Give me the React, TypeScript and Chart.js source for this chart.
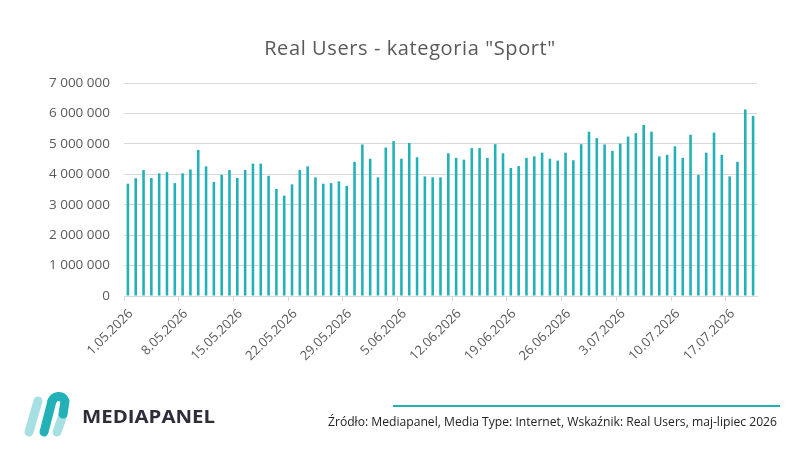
import React, { useEffect, useRef } from "react";
import { Chart, registerables } from "chart.js";

Chart.register(...registerables);

const TITLE = 'Real Users - kategoria "Sport"';
const SOURCE = "Źródło: Mediapanel, Media Type: Internet, Wskaźnik: Real Users, maj-lipiec 2026";
const BRAND = "MEDIAPANEL";

const categories: string[] = [
  "1.05.2026", "2.05.2026", "3.05.2026", "4.05.2026", "5.05.2026", "6.05.2026", "7.05.2026",
  "8.05.2026", "9.05.2026", "10.05.2026", "11.05.2026", "12.05.2026", "13.05.2026", "14.05.2026",
  "15.05.2026", "16.05.2026", "17.05.2026", "18.05.2026", "19.05.2026", "20.05.2026", "21.05.2026",
  "22.05.2026", "23.05.2026", "24.05.2026", "25.05.2026", "26.05.2026", "27.05.2026", "28.05.2026",
  "29.05.2026", "30.05.2026", "31.05.2026", "1.06.2026", "2.06.2026", "3.06.2026", "4.06.2026",
  "5.06.2026", "6.06.2026", "7.06.2026", "8.06.2026", "9.06.2026", "10.06.2026", "11.06.2026",
  "12.06.2026", "13.06.2026", "14.06.2026", "15.06.2026", "16.06.2026", "17.06.2026", "18.06.2026",
  "19.06.2026", "20.06.2026", "21.06.2026", "22.06.2026", "23.06.2026", "24.06.2026", "25.06.2026",
  "26.06.2026", "27.06.2026", "28.06.2026", "29.06.2026", "30.06.2026", "1.07.2026", "2.07.2026",
  "3.07.2026", "4.07.2026", "5.07.2026", "6.07.2026", "7.07.2026", "8.07.2026", "9.07.2026",
  "10.07.2026", "11.07.2026", "12.07.2026", "13.07.2026", "14.07.2026", "15.07.2026", "16.07.2026",
  "17.07.2026", "18.07.2026", "19.07.2026", "20.07.2026",
];

const realUsers: number[] = [
  3690000, 3870000, 4140000, 3880000, 4030000, 4070000, 3710000,
  4030000, 4160000, 4800000, 4260000, 3750000, 3980000, 4140000,
  3880000, 4140000, 4350000, 4350000, 3950000, 3520000, 3300000,
  3670000, 4140000, 4260000, 3900000, 3690000, 3710000, 3770000,
  3620000, 4410000, 4980000, 4510000, 3900000, 4880000, 5090000,
  4510000, 5030000, 4560000, 3930000, 3900000, 3900000, 4690000,
  4540000, 4480000, 4860000, 4860000, 4540000, 4990000, 4690000,
  4210000, 4270000, 4540000, 4590000, 4710000, 4510000, 4450000,
  4710000, 4460000, 4990000, 5400000, 5190000, 4980000, 4770000,
  5010000, 5240000, 5350000, 5620000, 5400000, 4590000, 4640000,
  4920000, 4540000, 5300000, 3980000, 4710000, 5370000, 4640000,
  3930000, 4410000, 6130000, 5920000,
];

const Y_MIN = 0;
const Y_MAX = 7000000;
const Y_STEP = 1000000;
const LABEL_EVERY = 7;

const TEAL = "#21b1b6";
const LIGHT_TEAL = "#a7e0e3";
const TEXT = "#595959";
const GRID = "#d9d9d9";
const FONT = "'Open Sans', sans-serif";

function fmt(v: number): string {
  return String(Math.round(v)).replace(/\B(?=(\d{3})+(?!\d))/g, " ");
}

export default function App() {
  const ref = useRef<HTMLCanvasElement | null>(null);

  useEffect(() => {
    if (!ref.current) return;
    const chart = new Chart(ref.current, {
      type: "bar",
      data: {
        labels: categories,
        datasets: [
          {
            label: "Real Users",
            data: realUsers,
            backgroundColor: TEAL,
            borderWidth: 0,
            barPercentage: 0.33,
            categoryPercentage: 1,
          },
        ],
      },
      options: {
        animation: false,
        responsive: true,
        maintainAspectRatio: false,
        layout: { padding: { left: 36, right: 43, top: 83, bottom: 0 } },
        plugins: {
          legend: { display: false },
          tooltip: { enabled: false },
          title: { display: false },
        },
        scales: {
          x: {
            offset: true,
            grid: {
              offset: true,
              drawOnChartArea: false,
              drawTicks: true,
              tickLength: 5,
              color: (ctx: any) => (ctx.index % LABEL_EVERY === 0 ? GRID : "rgba(0,0,0,0)"),
            },
            border: { display: true, color: GRID, width: 1 },
            ticks: {
              autoSkip: false,
              maxRotation: 45,
              minRotation: 45,
              padding: 5,
              labelOffset: 3,
              color: TEXT,
              font: { family: FONT, size: 13 },
              callback: (_v: any, i: number) => (i % LABEL_EVERY === 0 ? categories[i] : ""),
            },
            afterFit: (scale: any) => {
              scale.height = 154;
            },
          },
          y: {
            min: Y_MIN,
            max: Y_MAX,
            grid: { color: GRID, drawTicks: false, lineWidth: 1 },
            border: { display: false },
            ticks: {
              stepSize: Y_STEP,
              padding: 14,
              color: TEXT,
              font: { family: FONT, size: 13.5 },
              callback: (v: any) => fmt(Number(v)),
            },
            afterFit: (scale: any) => {
              scale.width = 88;
            },
          },
        },
      },
    });
    return () => chart.destroy();
  }, []);

  return (
    <div
      style={{
        position: "absolute",
        left: 0,
        top: 0,
        width: 800,
        height: 450,
        background: "#ffffff",
        overflow: "hidden",
      }}
    >
      <canvas ref={ref} style={{ position: "absolute", left: 0, top: 0, width: 800, height: 450 }} />
      <div
        style={{
          position: "absolute",
          left: 10,
          top: 38,
          width: 800,
          textAlign: "center",
          font: `20px ${FONT}`,
          lineHeight: "20px",
          letterSpacing: "0.6px",
          color: TEXT,
          whiteSpace: "nowrap",
        }}
      >
        {TITLE}
      </div>
      <svg
        width={800}
        height={450}
        style={{ position: "absolute", left: 0, top: 0, pointerEvents: "none" }}
      >
        <g strokeLinecap="round" strokeLinejoin="round" fill="none" strokeWidth={9}>
          <line x1={29} y1={432} x2={38} y2={401} stroke={LIGHT_TEAL} />
          <line x1={57} y1={432} x2={63} y2={415} stroke={LIGHT_TEAL} />
          <line x1={44} y1={432} x2={52} y2={401} stroke={TEAL} />
          <path d="M52 401 C 54 396, 62 394, 65 401 L 63 414" stroke={TEAL} />
        </g>
        <text
          x={82}
          y={423}
          textLength={133}
          lengthAdjust="spacingAndGlyphs"
          fill="#2e2d3a"
          style={{ font: `bold 18px ${FONT}` }}
        >
          {BRAND}
        </text>
        <rect x={393} y={405} width={387} height={2} fill={TEAL} />
        <text
          x={328}
          y={426}
          textLength={449}
          lengthAdjust="spacingAndGlyphs"
          fill="#222222"
          style={{ font: `12.5px ${FONT}` }}
        >
          {SOURCE}
        </text>
      </svg>
    </div>
  );
}
